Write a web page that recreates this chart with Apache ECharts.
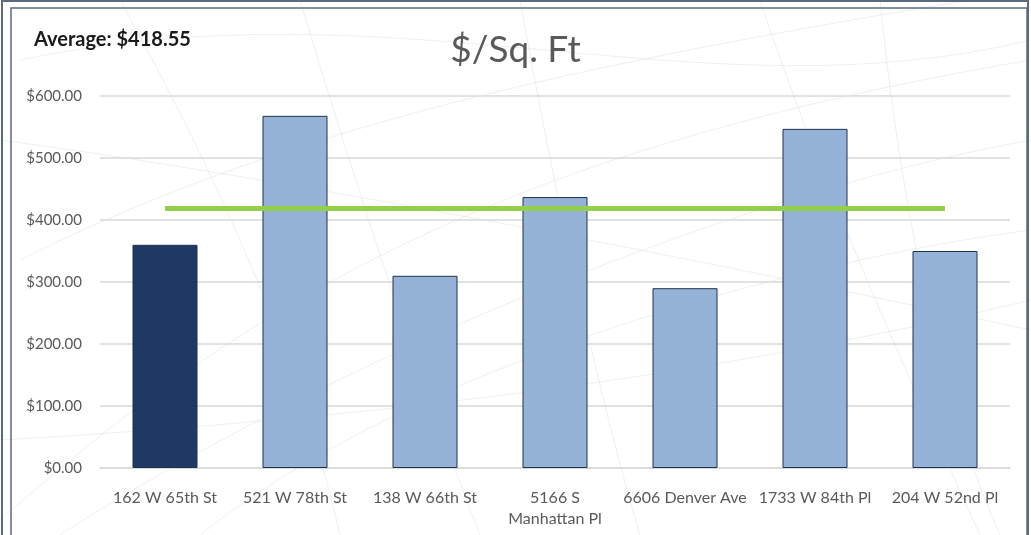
<!DOCTYPE html>
<html>
<head>
<meta charset="utf-8">
<style>
  html, body { margin: 0; padding: 0; background: #ffffff; }
  #chart { width: 1031px; height: 535px; }
</style>
<script src="https://cdn.jsdelivr.net/npm/echarts@6/dist/echarts.min.js"></script>
</head>
<body>
<div id="chart"></div>
<script>
// Properties and their price per square foot
const categories = [
  '162 W 65th St',
  '521 W 78th St',
  '138 W 66th St',
  '5166 S\nManhattan Pl',
  '6606 Denver Ave',
  '1733 W 84th Pl',
  '204 W 52nd Pl'
];
const pricePerSqFt = [360, 568, 310, 437, 290, 547, 350];
const averagePrice = 418.55;
const yTicks = [0, 100, 200, 300, 400, 500, 600];

const highlightIndex = 0;
const FONT = 'Lato, "Open Sans", sans-serif';
const TEXT = '#595959';

const chart = echarts.init(document.getElementById('chart'), null, { renderer: 'canvas' });

const barData = pricePerSqFt.map((v, i) => ({
  value: v,
  itemStyle: { color: i === highlightIndex ? '#203864' : '#95B3D7' }
}));

// faint decorative sweep lines in the chart background
const sweep = [];
const sweepSpecs = [
  [20, 60, 400, -20, 700, 120, 1031, 40],
  [20, 260, 300, 120, 600, 60, 1031, -10],
  [0, 520, 250, 300, 500, 150, 1031, 60],
  [60, 535, 300, 380, 700, 200, 1031, 140],
  [200, 535, 420, 360, 800, 260, 1031, 230],
  [300, 0, 360, 200, 420, 380, 480, 535],
  [520, 0, 560, 220, 600, 400, 640, 535],
  [760, 0, 820, 180, 900, 360, 980, 535],
  [880, 0, 900, 200, 940, 400, 1000, 535],
  [120, 0, 220, 180, 300, 360, 340, 535],
  [0, 140, 300, 180, 700, 260, 1031, 330],
  [0, 440, 350, 420, 700, 380, 1031, 300]
];
sweepSpecs.forEach(s => {
  sweep.push({
    type: 'bezierCurve',
    shape: { x1: s[0], y1: s[1], cpx1: s[2], cpy1: s[3], cpx2: s[4], cpy2: s[5], x2: s[6], y2: s[7] },
    style: { stroke: '#d6dade', lineWidth: 0.8, fill: 'none', opacity: 0.55 },
    silent: true, z: -10
  });
});

chart.setOption({
  animation: false,
  backgroundColor: '#ffffff',
  textStyle: { fontFamily: FONT },
  graphic: sweep.concat([
    // outer and inner frames
    { type: 'rect', shape: { x: 2, y: 1, width: 1026, height: 540 }, style: { fill: 'none', stroke: '#5B6B7E', lineWidth: 2 }, silent: true },
    { type: 'rect', shape: { x: 11, y: 8, width: 1016, height: 540 }, style: { fill: 'none', stroke: '#5B6B7E', lineWidth: 1.5 }, silent: true },
    {
      type: 'text', left: 34, top: 30,
      style: { text: 'Average: $' + averagePrice.toFixed(2), fontFamily: FONT, fontSize: 20, fontWeight: 'bold', fill: '#1a1a1a' }
    }
  ]),
  title: {
    text: '$/Sq. Ft',
    left: 'center',
    top: 27,
    textStyle: { fontFamily: FONT, fontSize: 37, fontWeight: 'normal', color: TEXT }
  },
  grid: { left: 100, right: 21, top: 96, bottom: 67, containLabel: false },
  xAxis: {
    type: 'category',
    data: categories,
    axisLine: { show: true, lineStyle: { color: '#D9D9D9', width: 1.5 } },
    axisTick: { show: false },
    axisLabel: { color: TEXT, fontFamily: FONT, fontSize: 16, margin: 19, lineHeight: 21, interval: 0 }
  },
  yAxis: {
    type: 'value',
    min: yTicks[0],
    max: yTicks[yTicks.length - 1],
    interval: yTicks[1] - yTicks[0],
    axisLine: { show: false },
    axisTick: { show: false },
    splitLine: { lineStyle: { color: '#D9D9D9', width: 1.5 } },
    axisLabel: {
      color: TEXT, fontFamily: FONT, fontSize: 15, margin: 18,
      formatter: v => '$' + v.toFixed(2)
    }
  },
  series: [
    {
      type: 'bar',
      data: barData,
      barWidth: '50%',
      itemStyle: { borderColor: '#1F3150', borderWidth: 1 }
    },
    {
      type: 'line',
      data: categories.map(() => averagePrice),
      symbol: 'none',
      lineStyle: { color: '#92CF4A', width: 5 },
      z: 5
    }
  ]
});
</script>
</body>
</html>
